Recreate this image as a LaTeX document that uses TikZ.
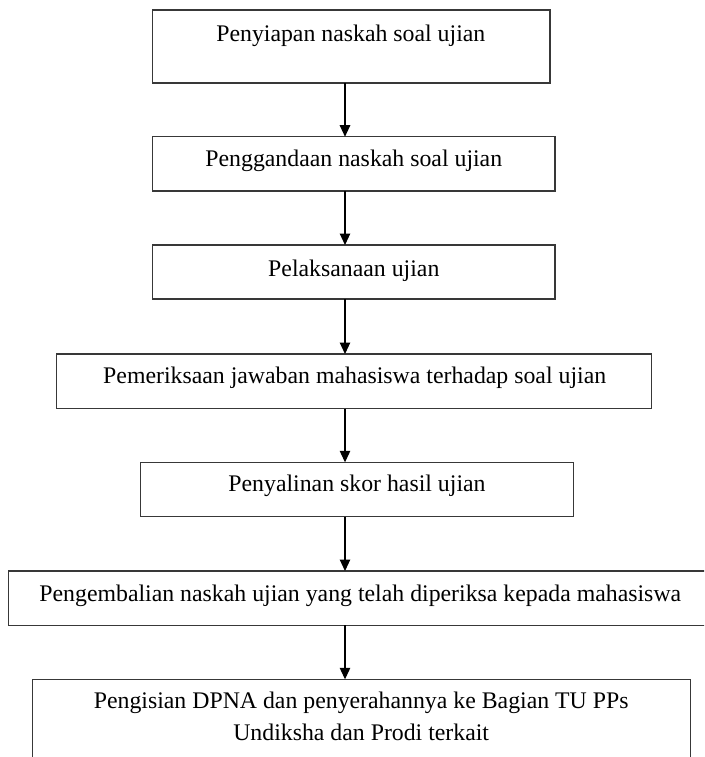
\documentclass[tikz,border=0pt]{standalone}
\usepackage{fontspec}
\setmainfont{Liberation Serif}
\usetikzlibrary{arrows.meta}
\begin{document}
\begin{tikzpicture}[x=1pt,y=-1pt,
  box/.style={draw=black!78,line width=1.3pt,inner sep=0pt,outer sep=0pt,rectangle},
  lbl/.style={anchor=base,inner sep=0pt,font=\fontsize{23.8}{32.4}\selectfont,align=center},
  arr/.style={draw=black,line width=1.1pt,-{Triangle[width=10.5pt,length=11.5pt]}}]
\clip (0,0) rectangle (704,757);
\fill[white] (0,0) rectangle (704,757);
\node[box,minimum width=397.3pt,minimum height=73pt] (b1) at (351.35,46.5) {};
\node[box,minimum width=402.3pt,minimum height=54.3pt] (b2) at (353.85,163.85) {};
\node[box,minimum width=402.3pt,minimum height=54pt] (b3) at (353.85,272) {};
\node[box,minimum width=595pt,minimum height=54.7pt] (b4) at (354.2,381.35) {};
\node[box,minimum width=432.6pt,minimum height=54.4pt] (b5) at (357,489.5) {};
\node[box,minimum width=703.7pt,minimum height=54.3pt] (b6) at (360.15,598.15) {};
\node[box,minimum width=658pt,minimum height=110.7pt] (b7) at (361.7,734.65) {};
\node[lbl] (t1) at (350.8,41.7) {Penyiapan naskah soal ujian};
\node[lbl] (t2) at (353.8,166.7) {Penggandaan naskah soal ujian};
\node[lbl] (t3) at (353.8,276.7) {Pelaksanaan ujian};
\node[lbl] (t4) at (354.7,383.3) {Pemeriksaan jawaban mahasiswa terhadap soal ujian};
\node[lbl] (t5) at (357,491.7) {Penyalinan skor hasil ujian};
\node[lbl] (t6) at (360.3,601) {Pengembalian naskah ujian yang telah diperiksa kepada mahasiswa};
\node[lbl] (t7) at (361.2,740.7) {Pengisian DPNA dan penyerahannya ke Bagian TU PPs\\Undiksha dan Prodi terkait};
\coordinate (ax) at (345,0);
\draw[arr] (b1.south -| ax) -- (b2.north -| ax);
\draw[arr] (b2.south -| ax) -- (b3.north -| ax);
\draw[arr] (b3.south -| ax) -- (b4.north -| ax);
\draw[arr] (b4.south -| ax) -- (b5.north -| ax);
\draw[arr] (b5.south -| ax) -- (b6.north -| ax);
\draw[arr] (b6.south -| ax) -- (b7.north -| ax);
\end{tikzpicture}
\end{document}
